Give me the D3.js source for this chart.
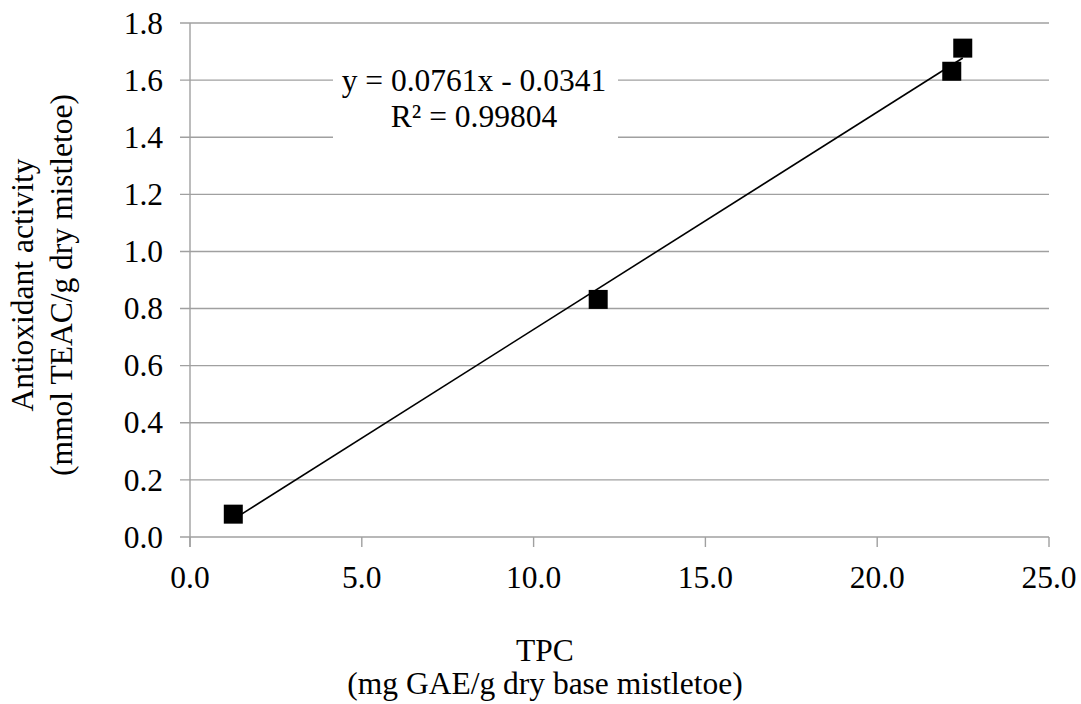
<!DOCTYPE html>
<html><head><meta charset="utf-8">
<script src="https://cdn.jsdelivr.net/npm/d3@7"></script>
<style>
html,body{margin:0;padding:0;background:#fff;}
</style></head>
<body><svg id="chart" width="1081" height="704" font-family="'Liberation Serif', 'Times New Roman', Times, 'DejaVu Serif', serif"></svg>
<script>
const tpc = [1.26, 11.88, 22.17, 22.49];
const antioxidant = [0.080, 0.832, 1.631, 1.712];
const slope = 0.0761, intercept = -0.0341;
const xTicks = [0, 5, 10, 15, 20, 25];
const yTicks = [0, 0.2, 0.4, 0.6, 0.8, 1.0, 1.2, 1.4, 1.6, 1.8];
const eqLines = ["y = 0.0761x - 0.0341", "R\u00b2 = 0.99804"];
const yTitle = ["Antioxidant activity", "(mmol TEAC/g dry mistletoe)"];
const xTitle = ["TPC", "(mg GAE/g dry base mistletoe)"];

(function () {
const svg = d3.select("#chart");
const pL = 190, pR = 1049, pT = 23, pB = 537;
const x = d3.scaleLinear().domain([0, 25]).range([pL, pR]);
const y = d3.scaleLinear().domain([0, 1.8]).range([pB, pT]);
const grid = "#a0a0a0";
const fs = 31.5;

svg.append("g").selectAll("line").data(yTicks).join("line")
  .attr("x1", pL - 10).attr("x2", pR)
  .attr("y1", d => y(d)).attr("y2", d => y(d))
  .attr("stroke", grid).attr("stroke-width", 1.4);

svg.append("line").attr("x1", pL).attr("x2", pL).attr("y1", pT).attr("y2", pB + 10)
  .attr("stroke", grid).attr("stroke-width", 1.4);
svg.append("g").selectAll("line").data(xTicks).join("line")
  .attr("x1", d => x(d)).attr("x2", d => x(d))
  .attr("y1", pB).attr("y2", pB + 10)
  .attr("stroke", grid).attr("stroke-width", 1.4);

svg.append("g").selectAll("text").data(yTicks).join("text")
  .attr("x", 163).attr("y", d => y(d)).attr("dy", "0.34em")
  .attr("text-anchor", "end").attr("font-size", fs)
  .text(d => d.toFixed(1));
svg.append("g").selectAll("text").data(xTicks).join("text")
  .attr("x", d => x(d)).attr("y", 588)
  .attr("text-anchor", "middle").attr("font-size", fs)
  .text(d => d.toFixed(1));

const xmin = d3.min(tpc), xmax = d3.max(tpc);
svg.append("line")
  .attr("x1", x(xmin)).attr("y1", y(slope * xmin + intercept))
  .attr("x2", x(xmax)).attr("y2", y(slope * xmax + intercept))
  .attr("stroke", "#000").attr("stroke-width", 1.6);

const ms = 19;
svg.append("g").selectAll("rect").data(tpc.map((v, i) => [v, antioxidant[i]])).join("rect")
  .attr("x", d => x(d[0]) - ms / 2).attr("y", d => y(d[1]) - ms / 2)
  .attr("width", ms).attr("height", ms).attr("fill", "#000");

svg.append("rect").attr("x", 333).attr("y", 52).attr("width", 285).attr("height", 90).attr("fill", "#fff");
svg.append("g").selectAll("text").data(eqLines).join("text")
  .attr("x", 474).attr("y", (d, i) => 91 + i * 36)
  .attr("text-anchor", "middle").attr("font-size", fs).text(d => d);

svg.append("g").attr("transform", "translate(0,285) rotate(-90)")
  .selectAll("text").data(yTitle).join("text")
  .attr("x", 0).attr("y", (d, i) => 33 + i * 39)
  .attr("text-anchor", "middle").attr("font-size", fs).text(d => d);

svg.append("g").selectAll("text").data(xTitle).join("text")
  .attr("x", 545).attr("y", (d, i) => 661 + i * 33)
  .attr("text-anchor", "middle").attr("font-size", fs).text(d => d);
})();
</script></body></html>
